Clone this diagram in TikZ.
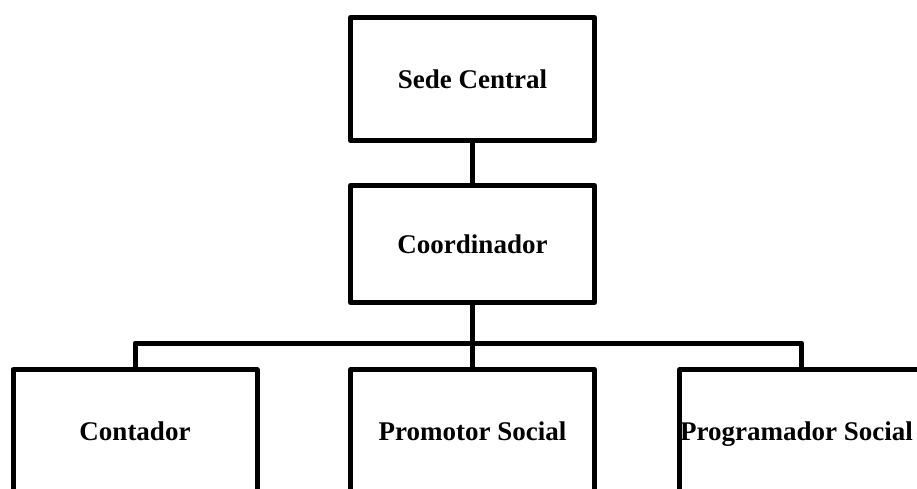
\documentclass[tikz,border=0pt]{standalone}
\usepackage{fontspec}
\setmainfont{Liberation Serif}
\begin{document}
\begin{tikzpicture}[x=1pt,y=-1pt,
  orgbox/.style={draw=black, line width=5pt, line join=round, fill=white,
    minimum width=244pt, inner sep=0pt,
    font=\bfseries\fontsize{27}{32}\selectfont},
  link/.style={draw=black, line width=5pt, line join=round}]
\useasboundingbox (0,0) rectangle (917,488);
\clip (0,0) rectangle (917,488);
\node[orgbox, minimum height=123pt] (sede) at (472.5,79) {Sede Central};
\node[orgbox, minimum height=117pt] (coord) at (472.5,244) {Coordinador};
\node[orgbox, minimum height=130pt] (cont) at (135,434.75) {\raisebox{7pt}{Contador}};
\node[orgbox, minimum height=130pt] (prom) at (472.5,434.75) {\raisebox{7pt}{Promotor Social}};
\node[orgbox, minimum height=130pt] (prog) at (801.5,434.75) {\raisebox{7pt}{\hspace*{-10pt}Programador Social}};
\coordinate (bar) at (472.5,343);
\draw[link] (sede.south) -- (coord.north);
\draw[link] (coord.south) -- (prom.north);
\draw[link] (cont.north) |- (bar) -| (prog.north);
\end{tikzpicture}
\end{document}
